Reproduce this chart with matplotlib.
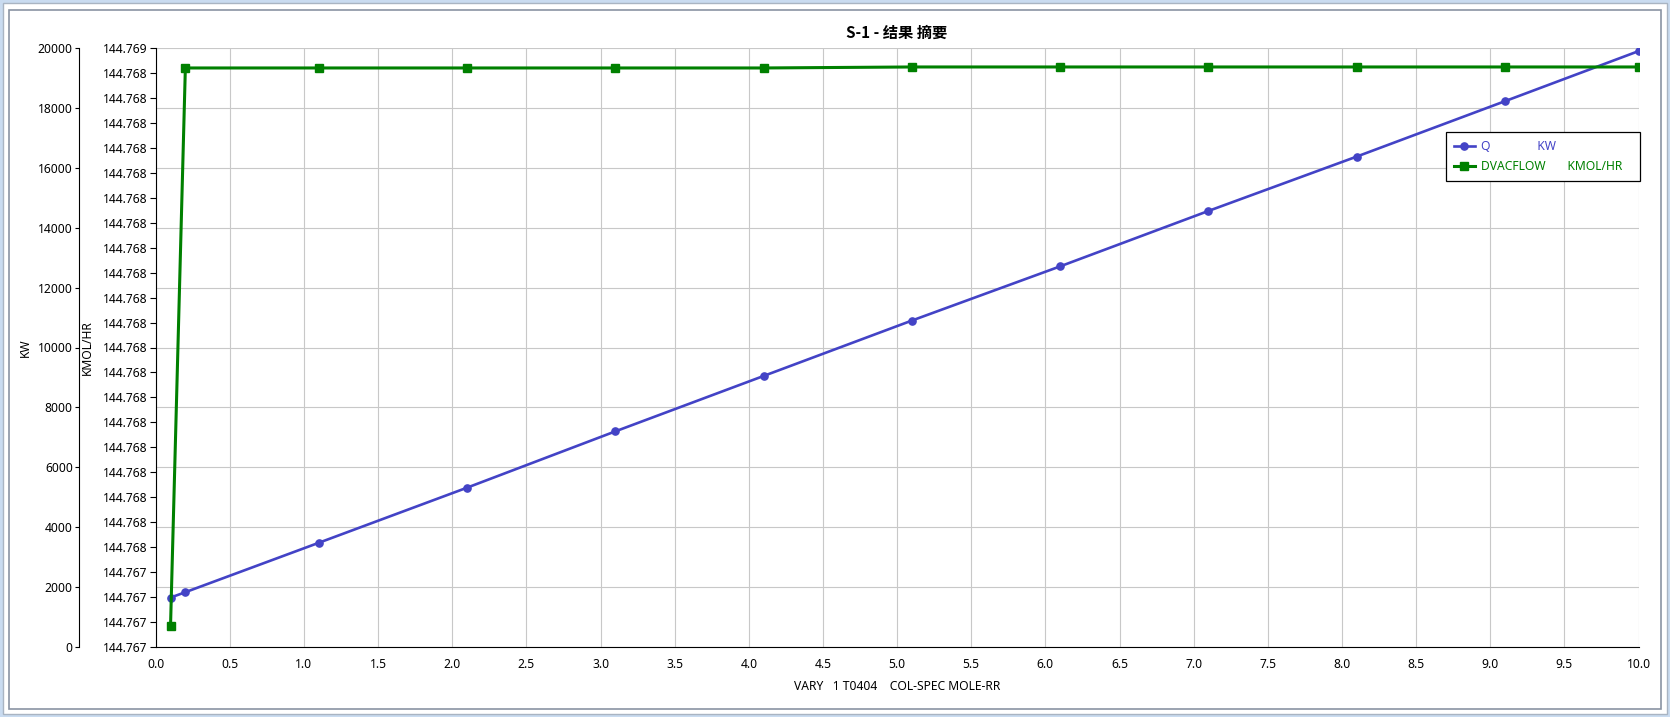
"""
S-1 灵敏度分析结果摘要图 (Q / DVACFLOW vs MOLE-RR)
"""
import numpy as np
import matplotlib
matplotlib.use('Agg')
import matplotlib.pyplot as plt
from matplotlib.patches import Rectangle
from matplotlib.ticker import FixedLocator, FormatStrFormatter, MultipleLocator

plt.rcParams['font.family'] = ['Noto Sans', 'Noto Sans CJK SC', 'DejaVu Sans']
plt.rcParams['font.size'] = 8.7

# 数据
rr = [0.1, 0.2, 1.1, 2.1, 3.1, 4.1, 5.1, 6.1, 7.1, 8.1, 9.1, 10.0]
q_kw = [1650, 1830, 3480, 5320, 7200, 9050, 10900, 12710, 14560, 16375, 18225, 19895]
dvacflow = [144.767352, 144.76847, 144.76847, 144.76847, 144.76847, 144.76847,
            144.768472, 144.768472, 144.768472, 144.768472, 144.768472, 144.768472]

title = 'S-1 - 结果 摘要'
xlabel = 'VARY   1 T0404    COL-SPEC MOLE-RR'
q_label = 'Q               KW'
dv_label = 'DVACFLOW       KMOL/HR   '

blue = '#4343C6'
green = '#008000'

W, H = 1670, 717
fig = plt.figure(figsize=(W / 100, H / 100), dpi=100)
fig.patch.set_facecolor('#C9DBF0')

# 窗口边框 (放在坐标轴下面)
def px_rect(x0, y0, x1, y1, **kw):
    r = Rectangle((x0 / W, 1 - y1 / H), (x1 - x0) / W, (y1 - y0) / H,
                  transform=fig.transFigure, zorder=-5, **kw)
    fig.patches.append(r)

px_rect(3, 3, 1667, 714, facecolor='white', edgecolor='#A9B4C2', linewidth=1.0)
px_rect(9, 10, 1661, 709, facecolor='white', edgecolor='#8A94A3', linewidth=1.2)

left, right, top, bottom = 155.7, 1638.5, 48, 647
ax = fig.add_axes([left / W, 1 - bottom / H, (right - left) / W, (bottom - top) / H])
ax.patch.set_visible(False)

# 主轴: Q (KW)
ax.plot(rr, q_kw, color=blue, lw=1.9, marker='o', ms=5.2, zorder=3)
ax.set_xlim(0, 10)
ax.set_ylim(0, 20000)
ax.xaxis.set_major_locator(MultipleLocator(0.5))
ax.xaxis.set_major_formatter(FormatStrFormatter('%.1f'))
ax.yaxis.set_major_locator(MultipleLocator(2000))
ax.grid(True, color='#C8C8C8', lw=0.8)
for s in ['top', 'right']:
    ax.spines[s].set_visible(False)
ax.spines['left'].set_position(('outward', (left - 79) * 0.72))
ax.tick_params(axis='y', direction='out', length=3, pad=1.5, width=0.8)
ax.tick_params(axis='x', direction='in', length=0, pad=8)
ax.set_ylabel('KW')
ax.yaxis.set_label_coords((32 - left) / (right - left), 0.5)
ax.set_xlabel(xlabel)
ax.xaxis.set_label_coords(0.5, -(680 - bottom) / (bottom - top))

# 副轴: DVACFLOW (KMOL/HR), 也放在左边
ax2 = ax.twinx()
ax2.plot(rr, dvacflow, color=green, lw=2.2, marker='s', ms=6, zorder=3)
lo, hi = 144.76731, 144.76851
ax2.set_ylim(lo, hi)
ax2.yaxis.set_major_locator(FixedLocator(np.linspace(lo, hi, 25)))
ax2.yaxis.set_major_formatter(FormatStrFormatter('%.3f'))
ax2.yaxis.tick_left()
ax2.yaxis.set_label_position('left')
ax2.spines['left'].set_visible(True)
for s in ['top', 'right', 'bottom']:
    ax2.spines[s].set_visible(False)
ax2.tick_params(axis='y', direction='out', length=4, pad=2, width=0.8)
ax2.set_ylabel('KMOL/HR')
ax2.yaxis.set_label_coords((94 - left) / (right - left), 0.5)

fig.text(897 / W, 1 - 33 / H, title, ha='center', va='center',
         fontsize=11, fontweight='bold', family=['Noto Sans CJK SC', 'DejaVu Sans'])

# 图例
h1 = plt.Line2D([], [], color=blue, lw=1.9, marker='o', ms=5.2)
h2 = plt.Line2D([], [], color=green, lw=2.2, marker='s', ms=6)
leg = fig.legend([h1, h2], [q_label, dv_label], loc='upper left',
                 bbox_to_anchor=(1446 / W, 1 - 132 / H), borderaxespad=0,
                 fancybox=False, edgecolor='black', framealpha=1,
                 handlelength=1.75, handletextpad=0.5, borderpad=0.65,
                 labelspacing=0.62, fontsize=8.7)
leg.get_frame().set_linewidth(0.9)
leg.get_texts()[0].set_color(blue)
leg.get_texts()[1].set_color(green)

fig.savefig('out.png', dpi=100)
